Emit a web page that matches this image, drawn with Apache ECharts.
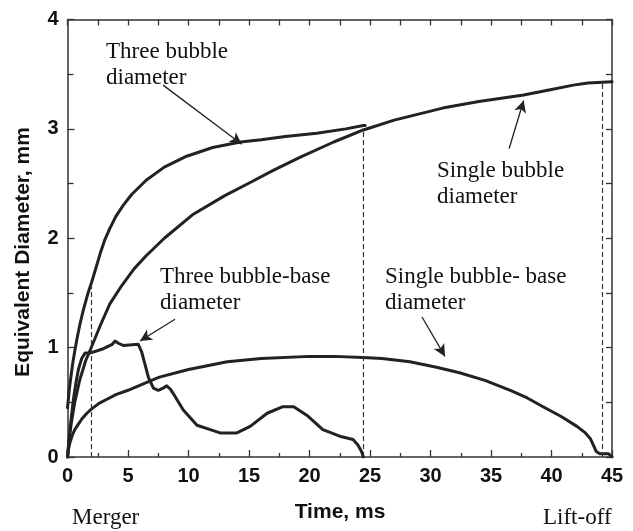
<!DOCTYPE html>
<html>
<head>
<meta charset="utf-8">
<script src="https://cdn.jsdelivr.net/npm/echarts@6/dist/echarts.min.js"></script>
<style>
  html, body { margin: 0; padding: 0; background: #fff; }
  #chart { width: 633px; height: 531px; }
</style>
</head>
<body>
<div id="chart"></div>
<script>
// Time axis (ms) and diameter axis (mm) ticks
const xTicks = [0, 5, 10, 15, 20, 25, 30, 35, 40, 45];
const yTicks = [0, 1, 2, 3, 4];

// Three bubble diameter: [time ms, diameter mm]
const threeBubbleDiameter = [
  [0, 0.45], [0.15, 0.62], [0.3, 0.75], [0.45, 0.87], [0.62, 0.98], [0.8, 1.09],
  [1.0, 1.2], [1.3, 1.34], [1.7, 1.5], [2, 1.6], [2.3, 1.71], [2.7, 1.86],
  [3.1, 1.99], [3.5, 2.09], [4.0, 2.2], [4.6, 2.3], [5.3, 2.4], [6.5, 2.53],
  [8, 2.65], [9.85, 2.75], [12, 2.83], [14.3, 2.88], [16, 2.9], [18, 2.93],
  [20.6, 2.96], [23, 3.0], [24.45, 3.03], [24.6, 3.03]
];

// Single bubble diameter
const singleBubbleDiameter = [
  [0, 0], [0.15, 0.17], [0.3, 0.3], [0.6, 0.5], [1.0, 0.7], [1.5, 0.88],
  [2, 1.01], [2.7, 1.2], [3.5, 1.4], [4.5, 1.57], [5.5, 1.72], [6.5, 1.84],
  [8, 2.0], [10.4, 2.22], [13, 2.39], [15.1, 2.51], [17, 2.62], [19.2, 2.74],
  [22, 2.88], [24.45, 2.99], [27, 3.08], [31, 3.19], [34, 3.25], [37.7, 3.31],
  [40, 3.36], [41.8, 3.4], [43, 3.42], [45, 3.43]
];

// Three bubble-base diameter
const threeBubbleBase = [
  [0, 0], [0.2, 0.25], [0.48, 0.52], [0.7, 0.68], [0.9, 0.8], [1.17, 0.9],
  [1.45, 0.95], [1.86, 0.95], [2.96, 0.99], [3.7, 1.03], [3.93, 1.06], [4.2, 1.04],
  [4.6, 1.02], [5.85, 1.03], [6.13, 0.96], [6.4, 0.85], [6.68, 0.73], [7.1, 0.63],
  [7.5, 0.61], [7.9, 0.63], [8.2, 0.65], [8.5, 0.62], [8.74, 0.58], [9.57, 0.43],
  [10.7, 0.29], [11.8, 0.25], [12.6, 0.22], [14.0, 0.22], [15.1, 0.28], [16.5, 0.4],
  [17.8, 0.46], [18.7, 0.46], [19.8, 0.38], [21.1, 0.25], [22.5, 0.19], [23.6, 0.16],
  [24.0, 0.11], [24.3, 0.05], [24.45, 0]
];

// Single bubble-base diameter
const singleBubbleBase = [
  [0, 0], [0.1, 0.08], [0.2, 0.13], [0.4, 0.2], [0.6, 0.25], [0.9, 0.3],
  [1.2, 0.35], [1.6, 0.4], [2, 0.44], [2.6, 0.49], [3.3, 0.53], [4, 0.57],
  [5, 0.61], [6.7, 0.69], [7.6, 0.73], [10, 0.8], [13.2, 0.87], [16, 0.9],
  [20, 0.92], [22, 0.92], [24.4, 0.91], [26, 0.9], [28.3, 0.87], [30.5, 0.82],
  [32.4, 0.77], [34.5, 0.7], [36.6, 0.61], [38, 0.54], [39.3, 0.46], [40.8, 0.37],
  [42.1, 0.28], [42.8, 0.22], [43.2, 0.17], [43.5, 0.1], [43.7, 0.05], [44, 0.03],
  [44.7, 0.03], [45, 0]
];

// Event times: merger, end of three-bubble stage, lift-off
const eventTimes = [2, 24.45, 44.2];
const eventTops = [1.6, 3.0, 3.42];

// Callout arrows: [from, to] in data units
const arrows = [
  [[7.9, 3.40], [14.4, 2.86]],
  [[36.5, 2.82], [37.7, 3.26]],
  [[8.88, 1.26], [5.99, 1.06]],
  [[29.3, 1.28], [31.2, 0.92]]
];

const ink = '#222';
const serif = '"Liberation Serif", "DejaVu Serif", serif';
const sans = '"Liberation Sans", Arial, sans-serif';

const chart = echarts.init(document.getElementById('chart'), null, { renderer: 'canvas' });

function curve(name, data) {
  return {
    name, type: 'line', data, showSymbol: false, symbol: 'none', smooth: false,
    lineStyle: { color: ink, width: 3, join: 'round', cap: 'round' },
    xAxisIndex: 0, yAxisIndex: 0, z: 3
  };
}

const series = [
  curve('Three bubble diameter', threeBubbleDiameter),
  curve('Single bubble diameter', singleBubbleDiameter),
  curve('Three bubble-base diameter', threeBubbleBase),
  curve('Single bubble-base diameter', singleBubbleBase)
];

// dashed event markers
series[0].markLine = {
  silent: true, symbol: ['none', 'none'], label: { show: false },
  lineStyle: { color: '#333', width: 1.2, type: [5, 3] },
  data: eventTimes.map((t, i) => [{ coord: [t, 0] }, { coord: [t, eventTops[i]] }])
};
// callout arrows
series[1].markLine = {
  silent: true, symbol: ['none', 'arrow'], symbolSize: [9, 12], label: { show: false },
  lineStyle: { color: ink, width: 1.3, type: 'solid' },
  data: arrows.map(a => [{ coord: a[0] }, { coord: a[1] }])
};

const axisColor = '#333';
const frameLine = { show: true, onZero: false, lineStyle: { color: axisColor, width: 1.5 } };
const tickStyle = { color: axisColor, width: 1.3 };
const noteStyle = { fontFamily: serif, fontSize: 23, lineHeight: 26, fill: '#111' };
const titleStyle = { fontFamily: sans, fontSize: 21, fontWeight: 'bold', fill: '#111' };

chart.setOption({
  animation: false,
  backgroundColor: '#fff',
  grid: { left: 67.5, right: 21, top: 19.5, bottom: 74, containLabel: false },
  xAxis: [
    {
      type: 'value', min: xTicks[0], max: xTicks[xTicks.length - 1], interval: 5,
      position: 'bottom', axisLine: frameLine,
      axisTick: { show: true, inside: true, length: 7, lineStyle: tickStyle },
      minorTick: { show: true, splitNumber: 2, length: 4, lineStyle: tickStyle },
      splitLine: { show: false },
      axisLabel: { fontFamily: sans, fontSize: 20, fontWeight: 'bold', color: '#111', margin: 9 }
    },
    {
      type: 'value', min: 0, max: 45, interval: 2.5, position: 'top', axisLine: frameLine,
      axisTick: { show: true, inside: true, length: 6, lineStyle: tickStyle },
      axisLabel: { show: false }, splitLine: { show: false }
    }
  ],
  yAxis: [
    {
      type: 'value', min: yTicks[0], max: yTicks[yTicks.length - 1], interval: 1,
      position: 'left', axisLine: frameLine,
      axisTick: { show: true, inside: true, length: 7, lineStyle: tickStyle },
      minorTick: { show: true, splitNumber: 2, length: 6, lineStyle: tickStyle },
      splitLine: { show: false },
      axisLabel: { fontFamily: sans, fontSize: 20, fontWeight: 'bold', color: '#111', margin: 9 }
    },
    {
      type: 'value', min: 0, max: 4, interval: 0.5, position: 'right', axisLine: frameLine,
      axisTick: { show: true, inside: true, length: 6, lineStyle: tickStyle },
      axisLabel: { show: false }, splitLine: { show: false }
    }
  ],
  series,
  graphic: [
    { type: 'text', x: 340, y: 512, style: Object.assign({ text: 'Time, ms', align: 'center', verticalAlign: 'middle' }, titleStyle) },
    { type: 'text', x: 23, y: 252, rotation: Math.PI / 2,
      style: Object.assign({ text: 'Equivalent Diameter, mm', align: 'center', verticalAlign: 'middle' }, titleStyle) },
    { type: 'text', left: 106, top: 39, style: Object.assign({ text: 'Three bubble\ndiameter' }, noteStyle) },
    { type: 'text', left: 437, top: 158, style: Object.assign({ text: 'Single bubble\ndiameter' }, noteStyle) },
    { type: 'text', left: 160, top: 264, style: Object.assign({ text: 'Three bubble-base\ndiameter' }, noteStyle) },
    { type: 'text', left: 385, top: 264, style: Object.assign({ text: 'Single bubble- base\ndiameter' }, noteStyle) },
    { type: 'text', left: 72, top: 505, style: Object.assign({ text: 'Merger' }, noteStyle) },
    { type: 'text', left: 543, top: 505, style: Object.assign({ text: 'Lift-off' }, noteStyle) }
  ]
});
</script>
</body>
</html>
